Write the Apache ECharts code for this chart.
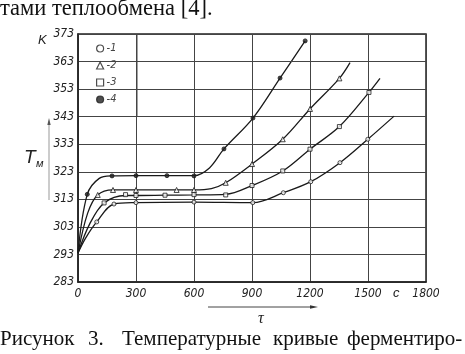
<!DOCTYPE html>
<html>
<head>
<meta charset="utf-8">
<script src="https://cdn.jsdelivr.net/npm/echarts@6/dist/echarts.min.js"></script>
<style>
  html, body { margin: 0; padding: 0; background: #fff; }
  #chart { width: 465px; height: 354px; }
</style>
</head>
<body>
<div id="chart"></div>
<script>
// кривые (время, с ; температура, K)
var curve1 = [[0,293.5],[40,299],[97,304.8],[186,311.3],[300,311.8],[600,312],[904,311.8],[1062,315.4],[1204,319.4],[1355,326.3],[1499,334.8],[1635,343.2]];
var curve2 = [[0,293.5],[50,308],[102,314.6],[181,316.4],[300,316.4],[510,316.4],[600,316.4],[690,316.9],[764,319],[900,325.8],[1059,334.8],[1200,345.8],[1352,356.9],[1407,362.6]];
var curve3 = [[0,293.5],[60,304],[135,311.7],[246,314.4],[300,314.4],[450,314.5],[600,314.6],[764,314.8],[900,318],[1059,323.3],[1200,331.2],[1352,339.4],[1505,351.8],[1562,356.9]];
var curve4 = [[0,293.5],[48,314.8],[110,320.6],[176,321.5],[300,321.6],[460,321.6],[600,321.6],[680,324.4],[755,331.3],[905,342.5],[1045,357],[1175,370.5]];

// экспериментальные точки
var pts1 = [[97,304.8],[186,311.3],[300,311.8],[600,312],[904,311.8],[1062,315.4],[1204,319.4],[1355,326.3],[1499,334.8]];
var pts2 = [[102,314.6],[181,316.4],[300,316.4],[510,316.4],[600,316.4],[764,319],[900,325.8],[1059,334.8],[1200,345.8],[1352,356.9]];
var pts3 = [[135,311.7],[246,314.7],[300,314.4],[450,314.5],[600,314.7],[764,314.6],[900,318],[1059,323.3],[1200,331.2],[1352,339.4],[1505,351.8]];
var pts4 = [[48,314.8],[176,321.5],[300,321.6],[460,321.6],[600,321.5],[755,331.3],[905,342.5],[1045,357],[1175,370.5]];

var seriesNames = ['-1', '-2', '-3', '-4'];
var xTicks = [0, 300, 600, 900, 1200, 1500, 1800];
var yTicks = [283, 293, 303, 313, 323, 333, 343, 353, 363, 373];

var myChart = echarts.init(document.getElementById('chart'));
var tickFont = { fontFamily: '"Liberation Sans Narrow", "DejaVu Sans Condensed", sans-serif', fontStyle: 'italic', fontSize: 12, color: '#222' };
var serif = '"Liberation Serif", serif';
var curves = [curve1, curve2, curve3, curve4];
var points = [pts1, pts2, pts3, pts4];
var symbols = ['circle', 'triangle', 'rect', 'circle'];
var fills = ['#fff', '#fff', '#fff', '#222'];

var series = [];
curves.forEach(function (c, i) {
  var s = {
    type: 'line',
    data: c,
    smooth: 0.35,
    showSymbol: false,
    silent: true,
    lineStyle: { color: '#1a1a1a', width: 1.3 },
    z: 3
  };
  if (i === 0) {
    // линия 363 только справа от легенды
    s.markLine = {
      silent: true, symbol: 'none', label: { show: false },
      lineStyle: { color: '#444', width: 1, type: 'solid' },
      data: [[{ coord: [300, 363] }, { coord: [1800, 363] }]]
    };
  }
  series.push(s);
});
points.forEach(function (p, i) {
  series.push({
    name: seriesNames[i],
    type: 'scatter',
    data: p,
    symbol: symbols[i],
    symbolSize: i === 1 ? 5 : 4,
    itemStyle: { color: fills[i], borderColor: '#1a1a1a', borderWidth: 1 },
    z: 4
  });
});

var caption = [
  { text: 'Рисунок', x: 0 },
  { text: '3.', x: 88 },
  { text: 'Температурные', x: 122 },
  { text: 'кривые', x: 273 },
  { text: 'ферментиро-', x: 347 }
];

var option = {
  animation: false,
  backgroundColor: '#fff',
  grid: { left: 78, top: 34, right: 39, bottom: 72, show: true, borderColor: '#222', borderWidth: 1.5 },
  legend: {
    data: seriesNames.map(function (n, i) {
      return { name: n, icon: symbols[i], itemStyle: { color: fills[i], borderColor: '#222', borderWidth: 1.2 } };
    }),
    orient: 'vertical', left: 91, top: 38,
    itemWidth: 7, itemHeight: 7, itemGap: 6,
    textStyle: { fontFamily: tickFont.fontFamily, fontStyle: 'italic', fontSize: 11, color: '#444', padding: [0, 0, 0, -2] }
  },
  xAxis: {
    type: 'value', min: 0, max: 1800, interval: 300,
    axisLine: { show: true, lineStyle: { color: '#222', width: 1.5 } },
    axisTick: { show: false },
    axisLabel: Object.assign({ margin: 6, formatter: function (v) { return xTicks.indexOf(v) >= 0 ? String(v) : ''; } }, tickFont),
    splitLine: { show: true, lineStyle: { color: '#444', width: 1 } }
  },
  yAxis: {
    type: 'value', min: 283, max: 373, interval: 10,
    axisLine: { show: true, lineStyle: { color: '#222', width: 1.5 } },
    axisTick: { show: false },
    axisLabel: Object.assign({ margin: 4, formatter: function (v) { return yTicks.indexOf(v) >= 0 ? String(v) : ''; } }, tickFont),
    splitLine: {
      show: true,
      interval: function (idx, v) { return Number(v) !== 363; },
      lineStyle: { color: '#444', width: 1 }
    }
  },
  graphic: [
    // вертикальная линия рамки легенды
    { type: 'line', shape: { x1: 137, y1: 34, x2: 137, y2: 117 }, style: { stroke: '#444', lineWidth: 1 }, silent: true },
    { type: 'text', left: 0, top: -2, style: { text: 'тами теплообмена [4].', font: '22.5px ' + serif, fill: '#111' } },
    { type: 'text', left: 38, top: 34, style: { text: 'K', font: 'italic 13px "Liberation Sans Narrow", sans-serif', fill: '#222' } },
    { type: 'text', left: 24, top: 148, style: { text: 'T', font: 'italic 19px "Liberation Sans Narrow", sans-serif', fill: '#222' } },
    { type: 'text', left: 36, top: 158, style: { text: 'м', font: 'italic 11px "Liberation Sans Narrow", sans-serif', fill: '#222' } },
    { type: 'line', shape: { x1: 49, y1: 200, x2: 49, y2: 122 }, style: { stroke: '#999', lineWidth: 1 } },
    { type: 'polygon', shape: { points: [[49, 118], [47.3, 125], [50.7, 125]] }, style: { fill: '#555' } },
    { type: 'text', left: 393, top: 287, style: { text: 'c', font: 'italic 13px "Liberation Sans Narrow", sans-serif', fill: '#222' } },
    { type: 'line', shape: { x1: 208, y1: 307, x2: 312, y2: 307 }, style: { stroke: '#444', lineWidth: 1 } },
    { type: 'polygon', shape: { points: [[318, 307], [310, 305.2], [310, 308.8]] }, style: { fill: '#333' } },
    { type: 'text', left: 258, top: 311, style: { text: 'τ', font: 'italic 16px ' + serif, fill: '#222' } }
  ].concat(caption.map(function (w) {
    return { type: 'text', left: w.x, top: 329, style: { text: w.text, font: '21px ' + serif, fill: '#111' } };
  })),
  series: series
};
myChart.setOption(option);
</script>
</body>
</html>
